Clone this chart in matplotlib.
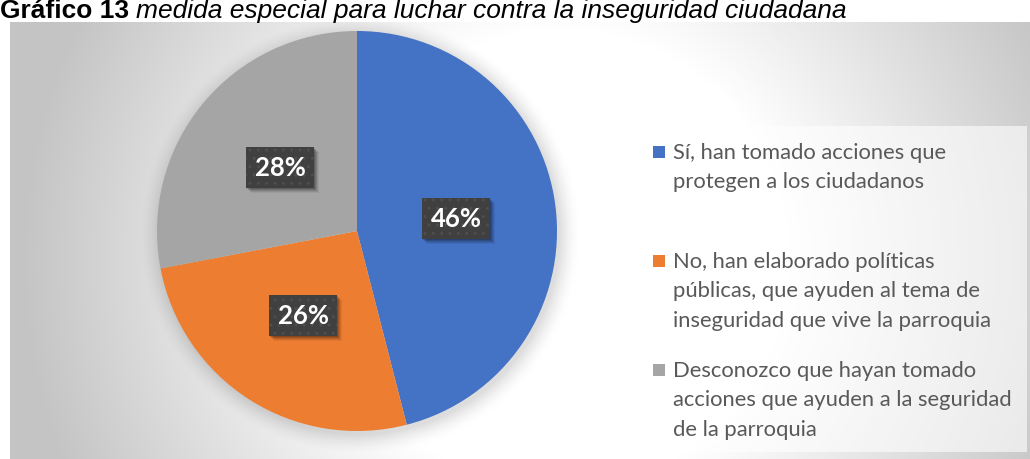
import numpy as np
import matplotlib
matplotlib.use("Agg")
import matplotlib.pyplot as plt
from matplotlib.patches import Rectangle

# ---- data ----
categories = [
    "Sí, han tomado acciones que\nprotegen a los ciudadanos",
    "No, han elaborado políticas\npúblicas, que ayuden al tema de\ninseguridad que vive la parroquia",
    "Desconozco que hayan tomado\nacciones que ayuden a la seguridad\nde la parroquia",
]
values = [46, 26, 28]
colors = ["#4472C4", "#ED7D31", "#A5A5A5"]
title_bold = "Gráfico 13"
title_italic = "medida especial para luchar contra la inseguridad ciudadana"

W, H = 1030, 460
fig = plt.figure(figsize=(W / 100, H / 100), dpi=100)
fig.patch.set_facecolor("white")

# pie geometry in pixels (from top-left)
cx, cy, R = 357, 232, 200

# ---- background gradient with soft pie shadow ----
bg = fig.add_axes([0, 0, 1, 1], zorder=0)
yy, xx = np.mgrid[0:H, 0:W].astype(float)
gx, gy = 560, 260
r = np.hypot(xx - gx, yy - gy)
t = np.clip((r - 230) / 310, 0, 1)
val = 255 - t * 59
d = np.hypot(xx - (cx + 2), yy - (cy + 3)) - R
sh = np.clip(1 - d / 20, 0, 1) ** 1.6
val = val * (1 - 0.13 * sh)
img = np.clip(val, 0, 255) / 255.0
mask = (xx < 10) | (yy < 23)
img[mask] = 1.0
rgb = np.dstack([img, img, img])
bg.imshow(rgb, extent=[0, W, H, 0], interpolation="bilinear", aspect="auto")
bg.set_xlim(0, W)
bg.set_ylim(H, 0)
bg.axis("off")

# ---- overlay axes in pixel coords for legend & title ----
ov = fig.add_axes([0, 0, 1, 1], zorder=3)
ov.set_xlim(0, W)
ov.set_ylim(H, 0)
ov.axis("off")
ov.patch.set_alpha(0)

ov.add_patch(Rectangle((645, 127), 382, 326, facecolor="white", alpha=0.6,
                       edgecolor="none"))
entry_y0, entry_step, line_step = 153, 109, 29.5
for i, (lab, col) in enumerate(zip(categories, colors)):
    y = entry_y0 + entry_step * i
    ov.add_patch(Rectangle((653, y - 6), 12, 12, facecolor=col, edgecolor="none"))
    for j, line in enumerate(lab.split("\n")):
        ov.text(673, y + j * line_step, line, fontsize=15.8, family="Lato",
                color="#595959", va="center", ha="left")

tb = ov.text(0, 18, title_bold + " ", fontsize=19, family="Liberation Sans",
             fontweight="bold", color="black", va="baseline", ha="left")
fig.canvas.draw()
bb = tb.get_window_extent()
ov.text(bb.x1 * (W / fig.bbox.width), 18, title_italic, fontsize=19,
        family="Liberation Sans", style="italic", color="black",
        va="baseline", ha="left")

# ---- pie ----
ax = fig.add_axes([(cx - R) / W, (H - cy - R) / H, 2 * R / W, 2 * R / H], zorder=2)
wedges, texts, autotexts = ax.pie(
    values, colors=colors, startangle=90, counterclock=False,
    autopct="%1.0f%%", pctdistance=0.5,
    wedgeprops=dict(linewidth=0), textprops=dict(color="white"))
ax.set_xlim(-1, 1)
ax.set_ylim(-1, 1)
ax.set_aspect("equal")
ax.axis("off")
ax.patch.set_alpha(0)

for at in autotexts:
    at.set(fontsize=18.5, family="Lato", fontweight="bold")
    at.set_zorder(5)
    at.set_bbox(dict(boxstyle="square,pad=0.33", facecolor="#404040",
                     edgecolor="#4e4e4e", linewidth=0, hatch=".."))

# soft shadows behind the label boxes, sized from the rendered boxes
fig.canvas.draw()
inv = ax.transData.inverted()
for at in autotexts:
    ext = at.get_bbox_patch().get_window_extent()
    for off, a in [(5.0, 0.06), (4.0, 0.08), (3.0, 0.10), (2.0, 0.13), (1.0, 0.15)]:
        (x0, y0), (x1, y1) = inv.transform([(ext.x0 + off, ext.y0 - off),
                                            (ext.x1 + off, ext.y1 - off)])
        ax.add_patch(Rectangle((x0, y0), x1 - x0, y1 - y0, facecolor="black",
                               edgecolor="none", alpha=a, zorder=4))

fig.savefig("out.png", dpi=100)
